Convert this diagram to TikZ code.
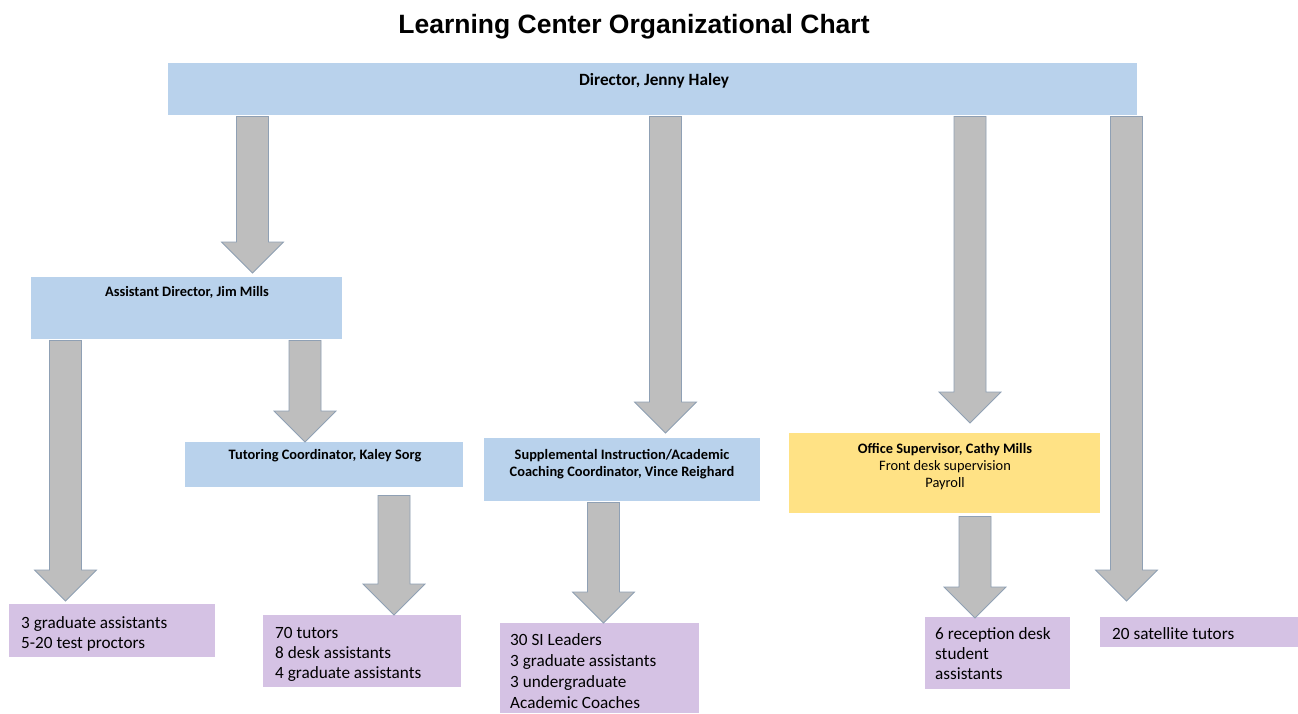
\documentclass[tikz,border=0pt]{standalone}
\usepackage{fontspec}
\setmainfont{Carlito}
\newfontfamily\titlefont{Liberation Sans}
\usetikzlibrary{calc}

\definecolor{boxblue}{HTML}{B9D2EC}
\definecolor{boxgold}{HTML}{FFE285}
\definecolor{boxlilac}{HTML}{D5C2E4}
\definecolor{arrowfill}{HTML}{BEBEBE}
\definecolor{arrowedge}{HTML}{8FA0B4}

\tikzset{
  box/.style={rectangle, draw=none, anchor=north west, inner sep=0pt},
  bluebox/.style={box, fill=boxblue},
  goldbox/.style={box, fill=boxgold},
  lilacbox/.style={box, fill=boxlilac},
  headlabel/.style={inner sep=0pt, align=center, font=\bfseries\fontsize{14.4}{17}\selectfont},
  staffline/.style={inner sep=0pt, anchor=north west, align=left, font=\fontsize{17.2}{20.2}\selectfont},
  blockarrowstyle/.style={fill=arrowfill, draw=arrowedge, line width=0.8pt, line join=miter},
}

% Block arrow: #1 centre x, #2 source node, #3 target node,
% #4 gap below source, #5 gap above target
\newcommand\blockarrow[5]{%
  \draw[blockarrowstyle] let \p1=(#2.south), \p2=(#3.north) in
    ({#1pt-16pt},{\y1-#4pt}) -- ({#1pt+16pt},{\y1-#4pt})
    -- ({#1pt+16pt},{\y2+#5pt+31pt}) -- ({#1pt+31pt},{\y2+#5pt+31pt})
    -- ({#1pt},{\y2+#5pt})
    -- ({#1pt-31pt},{\y2+#5pt+31pt}) -- ({#1pt-16pt},{\y2+#5pt+31pt}) -- cycle;}

\begin{document}
\begin{tikzpicture}[x=1pt, y=-1pt]
\useasboundingbox[fill=white] (0,0) rectangle (1298,713);

% title
\node[inner sep=0pt, font=\titlefont\bfseries\fontsize{26.5}{30}\selectfont] (title) at (634,27) {Learning Center Organizational Chart};

% boxes
\node[bluebox, minimum width=969pt, minimum height=52pt] (dir) at (168,63) {};
\node[bluebox, minimum width=311pt, minimum height=62pt] (ad) at (31,277) {};
\node[bluebox, minimum width=278pt, minimum height=45pt] (tut) at (185,442) {};
\node[bluebox, minimum width=276pt, minimum height=63pt] (si) at (484,438) {};
\node[goldbox, minimum width=311pt, minimum height=80pt] (off) at (789,433) {};
\node[lilacbox, minimum width=206pt, minimum height=53pt] (g1) at (9,604) {};
\node[lilacbox, minimum width=198pt, minimum height=72pt] (g2) at (263,615) {};
\node[lilacbox, minimum width=199pt, minimum height=90pt] (g3) at (500,623) {};
\node[lilacbox, minimum width=145pt, minimum height=72pt] (g4) at (925,617) {};
\node[lilacbox, minimum width=198pt, minimum height=30pt] (g5) at (1100,617) {};

% box labels
\node[headlabel, font=\bfseries\fontsize{17.2}{20}\selectfont] (dirlabel) at (654,81) {Director, Jenny Haley};
\node[headlabel] (adlabel) at (187,292) {Assistant Director, Jim Mills};
\node[headlabel] (tutlabel) at (325,456) {Tutoring Coordinator, Kaley Sorg};
\node[headlabel, anchor=north] (silabel) at (622,449) {Supplemental Instruction/Academic\\Coaching Coordinator, Vince Reighard};
\node[headlabel, anchor=north, font=\fontsize{14.4}{17}\selectfont] (offlabel) at (945,443) {\textbf{Office Supervisor, Cathy Mills}\\Front desk supervision\\Payroll};

\node[staffline] (g1text) at (21,616) {3 graduate assistants\\5-20 test proctors};
\node[staffline] (g2text) at (275,627) {70 tutors\\8 desk assistants\\4 graduate assistants};
\node[staffline, font=\fontsize{17.2}{21.2}\selectfont] (g3text) at (510,633) {30 SI Leaders\\3 graduate assistants\\3 undergraduate\\Academic Coaches};
\node[staffline] (g4text) at (935,627) {6 reception desk\\student\\assistants};
\node[staffline] (g5text) at (1112,627) {20 satellite tutors};

% connectors
\blockarrow{252.5}{dir}{ad}{1}{4}
\blockarrow{665.5}{dir}{si}{1}{5}
\blockarrow{970}{dir}{off}{1}{10}
\blockarrow{1126.5}{dir}{g5}{1}{16}
\blockarrow{65.5}{ad}{g1}{1}{3}
\blockarrow{305}{ad}{tut}{1}{0}
\blockarrow{394}{tut}{g2}{8}{0}
\blockarrow{603.5}{si}{g3}{1}{0}
\blockarrow{975}{off}{g4}{3}{-1}
\end{tikzpicture}
\end{document}
